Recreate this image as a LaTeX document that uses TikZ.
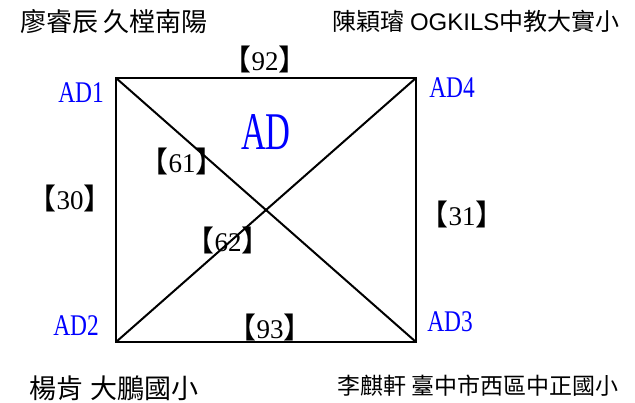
\documentclass[tikz,border=0pt]{standalone}
\usepackage{fontspec}
\setmainfont{Liberation Serif}
\setsansfont{Liberation Sans}
\newfontfamily\cjk{Noto Sans CJK TC}
\newfontfamily\adfont[FakeStretch=0.78]{Liberation Serif}
\newfontfamily\bigadfont[FakeStretch=0.65]{Liberation Serif}
\newcommand{\wlabel}[1]{{\cjk\fontsize{29}{29}\selectfont 【}#1{\cjk\fontsize{29}{29}\selectfont 】}}

\begin{document}
\begin{tikzpicture}[x=1pt, y=-1pt,
    edge/.style={line width=2pt},
    corner/.style={text=blue, inner sep=0pt, font=\adfont\fontsize{30}{30}\selectfont},
    weight/.style={inner sep=0pt, font=\fontsize{27}{27}\selectfont},
    author/.style={inner sep=0pt, font=\cjk\fontsize{26}{26}\selectfont}]

    \useasboundingbox (0,0) rectangle (635,403);

    \def\xl{116}
    \def\xr{416}
    \def\yt{78}
    \def\yb{342}

    % --- Corners ---
    \coordinate (AD1) at (\xl,\yt);
    \coordinate (AD4) at (\xr,\yt);
    \coordinate (AD2) at (\xl,\yb);
    \coordinate (AD3) at (\xr,\yb);

    % --- Square and diagonals ---
    \draw[edge] (AD1) -- (AD4) -- (AD3) -- (AD2) -- cycle;
    \draw[edge] (AD1) -- (AD3);
    \draw[edge] (AD2) -- (AD4);

    % --- Corner labels ---
    \node[corner] (lab1) at (81,93) {AD1};
    \node[corner] (lab4) at (452,88) {AD4};
    \node[corner] (lab2) at (76,326) {AD2};
    \node[corner] (lab3) at (450,322) {AD3};
    \node[text=blue, inner sep=0pt, font=\bigadfont\fontsize{53}{53}\selectfont] (title) at (266,132) {AD};

    % --- Edge weights ---
    \node[weight] (w92) at (265,59) {\wlabel{92}};
    \node[weight] (w30) at (70,198) {\wlabel{30}};
    \node[weight] (w31) at (462,214) {\wlabel{31}};
    \node[weight] (w61) at (182,161) {\wlabel{61}};
    \node[weight] (w62) at (228,240) {\wlabel{62}};
    \node[weight] (w93) at (270,327) {\wlabel{93}};

    % --- Names ---
    \node[author] (tl) at (114,22) {廖睿辰 久樘南陽};
    \node[author, font=\cjk\fontsize{24}{24}\selectfont] (tr) at (476,21) {陳穎璿 {\sffamily OGKILS}中教大實小};
    \node[author, font=\cjk\fontsize{27}{27}\selectfont] (bl) at (114,388) {楊肯 大鵬國小};
    \node[author, font=\cjk\fontsize{23}{23}\selectfont] (br) at (478,386) {李麒軒 臺中市西區中正國小};

\end{tikzpicture}
\end{document}
